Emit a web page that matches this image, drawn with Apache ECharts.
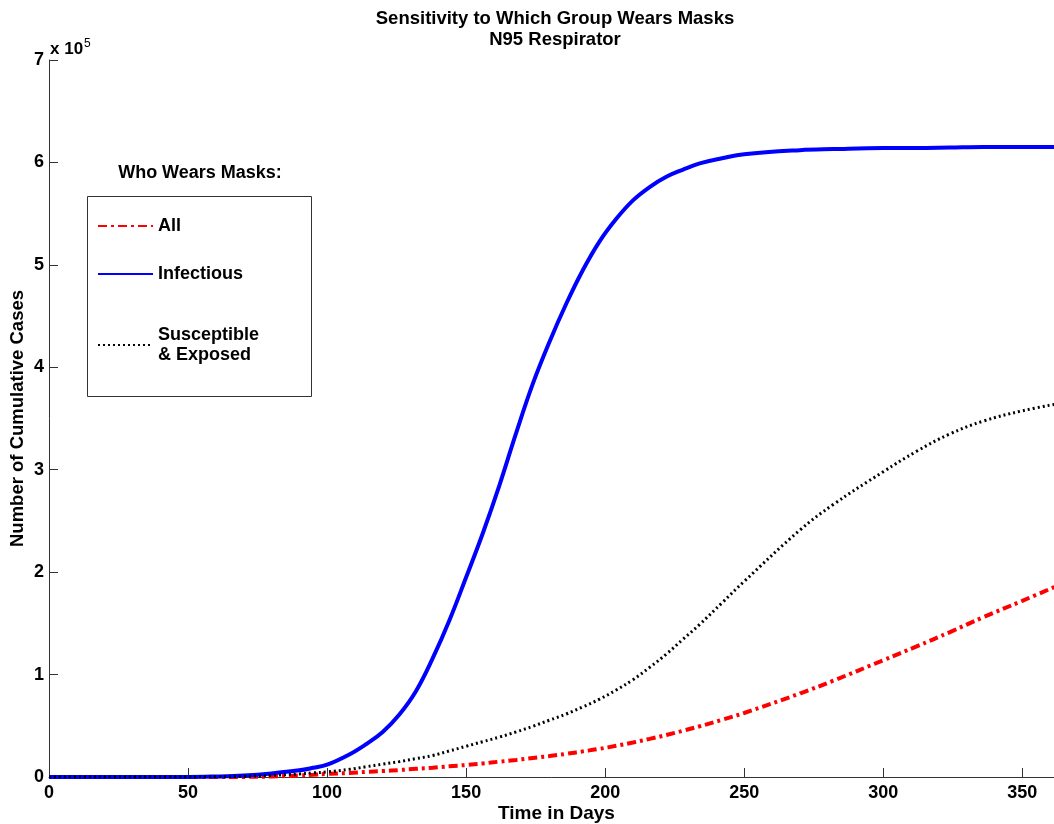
<!DOCTYPE html>
<html>
<head>
<meta charset="utf-8">
<script src="https://cdn.jsdelivr.net/npm/echarts@6/dist/echarts.min.js"></script>
<style>
  html, body { margin: 0; padding: 0; background: #fff; }
  #chart { width: 1054px; height: 824px; }
</style>
</head>
<body>
<div id="chart"></div>
<script>
// days sampled along the curves
const days = [0, 50, 60, 70, 80, 90, 95, 100, 108, 114, 120, 126, 132, 138, 144, 150, 156, 162, 168, 174, 180,
  186, 192, 198, 204, 210, 216, 222, 228, 234, 242, 250, 270, 282, 300, 312, 324, 336, 350, 365]

// cumulative cases, in units of 10^5
const infectious = [0, 0, 0.005, 0.015, 0.035, 0.065, 0.09, 0.12, 0.22, 0.32, 0.44, 0.61, 0.84, 1.16, 1.53, 1.95, 2.38, 2.85, 3.36, 3.84, 4.25,
  4.62, 4.95, 5.23, 5.45, 5.63, 5.76, 5.86, 5.93, 5.99, 6.04, 6.08, 6.12, 6.13, 6.14, 6.14, 6.145, 6.15, 6.15, 6.15]
const suscExposed = [0, 0, 0.002, 0.006, 0.015, 0.03, 0.04, 0.05, 0.075, 0.10, 0.125, 0.15, 0.18, 0.21, 0.255, 0.30, 0.345, 0.39, 0.44, 0.495, 0.555,
  0.615, 0.685, 0.76, 0.85, 0.95, 1.07, 1.20, 1.345, 1.49, 1.70, 1.91, 2.41, 2.66, 2.98, 3.18, 3.35, 3.475, 3.575, 3.655]
const allWear = [0, 0, 0, 0.001, 0.005, 0.015, 0.022, 0.03, 0.04, 0.05, 0.058, 0.068, 0.08, 0.09, 0.105, 0.117, 0.132, 0.15, 0.167, 0.186, 0.205,
  0.226, 0.25, 0.275, 0.305, 0.337, 0.372, 0.41, 0.452, 0.495, 0.558, 0.625, 0.815, 0.94, 1.14, 1.275, 1.415, 1.56, 1.72, 1.895]

const yTicks = [0, 1, 2, 3, 4, 5, 6, 7]
const xTicks = [0, 50, 100, 150, 200, 250, 300, 350]

const SCALE = 1e5
const font = '"Liberation Sans", Arial, sans-serif'
const axisColor = '#333'

const toPairs = (vals) => days.map((d, i) => [d, vals[i] * SCALE])

const chart = echarts.init(document.getElementById('chart'))

const legendBase = {
  orient: 'vertical',
  left: 97,
  padding: 0,
  itemWidth: 55,
  itemHeight: 14,
  itemStyle: { opacity: 0 },
  selectedMode: false,
  textStyle: { fontFamily: font, fontWeight: 'bold', fontSize: 18, color: '#000', lineHeight: 20 }
}

const option = {
  animation: false,
  backgroundColor: '#fff',
  grid: { left: 49, top: 60, bottom: 47, right: -10, outerBoundsMode: 'none', containLabel: false },
  xAxis: {
    type: 'value',
    min: 0,
    max: 365,
    interval: 50,
    name: 'Time in Days',
    nameLocation: 'middle',
    nameGap: 27,
    nameMoveOverlap: false,
    nameTextStyle: { fontFamily: font, fontWeight: 'bold', fontSize: 19, color: '#000' },
    axisLine: { lineStyle: { color: axisColor, width: 1 } },
    axisTick: { inside: true, length: 9, lineStyle: { color: axisColor } },
    axisLabel: {
      margin: 7,
      fontFamily: font, fontWeight: 'bold', fontSize: 18, color: '#000',
      formatter: v => (xTicks.includes(v) ? String(v) : '')
    },
    splitLine: { show: false }
  },
  yAxis: {
    type: 'value',
    min: 0,
    max: 7 * SCALE,
    interval: SCALE,
    name: 'Number of Cumulative Cases',
    nameLocation: 'middle',
    nameGap: 22,
    nameMoveOverlap: false,
    nameTextStyle: { fontFamily: font, fontWeight: 'bold', fontSize: 18.5, color: '#000' },
    axisLine: { show: true, lineStyle: { color: axisColor, width: 1 } },
    axisTick: { show: true, inside: true, length: 9, lineStyle: { color: axisColor } },
    axisLabel: {
      margin: 5,
      fontFamily: font, fontWeight: 'bold', fontSize: 18, color: '#000',
      formatter: v => {
        const t = Math.round(v / SCALE)
        return yTicks.includes(t) ? String(t) : ''
      }
    },
    splitLine: { show: false }
  },
  legend: [
    Object.assign({}, legendBase, { top: 216, data: ['All'] }),
    Object.assign({}, legendBase, { top: 264, data: ['Infectious'] }),
    Object.assign({}, legendBase, { top: 325, data: ['Susceptible\n& Exposed'] })
  ],
  graphic: [
    {
      type: 'text', x: 555, y: 8,
      style: {
        text: 'Sensitivity to Which Group Wears Masks\nN95 Respirator',
        align: 'center', fontFamily: font, fontWeight: 'bold', fontSize: 18.5, lineHeight: 21, fill: '#000'
      }
    },
    {
      type: 'text', x: 50, y: 38,
      style: {
        text: 'x 10{sup|5}',
        fontFamily: font, fontWeight: 'bold', fontSize: 17, fill: '#000',
        rich: { sup: { fontFamily: font, fontSize: 12, verticalAlign: 'top', padding: [0, 0, 10, 1] } }
      }
    },
    {
      type: 'text', x: 200, y: 164,
      style: {
        text: 'Who Wears Masks:',
        align: 'center', fontFamily: font, fontWeight: 'bold', fontSize: 18, fill: '#000'
      }
    },
    {
      type: 'rect',
      shape: { x: 87.5, y: 196.5, width: 224, height: 200 },
      style: { fill: '#fff', stroke: axisColor, lineWidth: 1 },
      z: -1
    }
  ],
  series: [
    {
      name: 'All',
      type: 'line',
      data: toPairs(allWear),
      smooth: 0.4,
      showSymbol: false,
      symbol: 'none',
      lineStyle: { color: '#ff0000', width: 4, type: [9, 4, 3, 4] },
      itemStyle: { color: '#ff0000' }
    },
    {
      name: 'Infectious',
      type: 'line',
      data: toPairs(infectious),
      smooth: 0.4,
      showSymbol: false,
      symbol: 'none',
      lineStyle: { color: '#0000ff', width: 4 },
      itemStyle: { color: '#0000ff' }
    },
    {
      name: 'Susceptible\n& Exposed',
      type: 'line',
      data: toPairs(suscExposed),
      smooth: 0.4,
      showSymbol: false,
      symbol: 'none',
      lineStyle: { color: '#000', width: 3, type: [2, 3] },
      itemStyle: { color: '#000' }
    }
  ]
}

chart.setOption(option)
</script>
</body>
</html>
